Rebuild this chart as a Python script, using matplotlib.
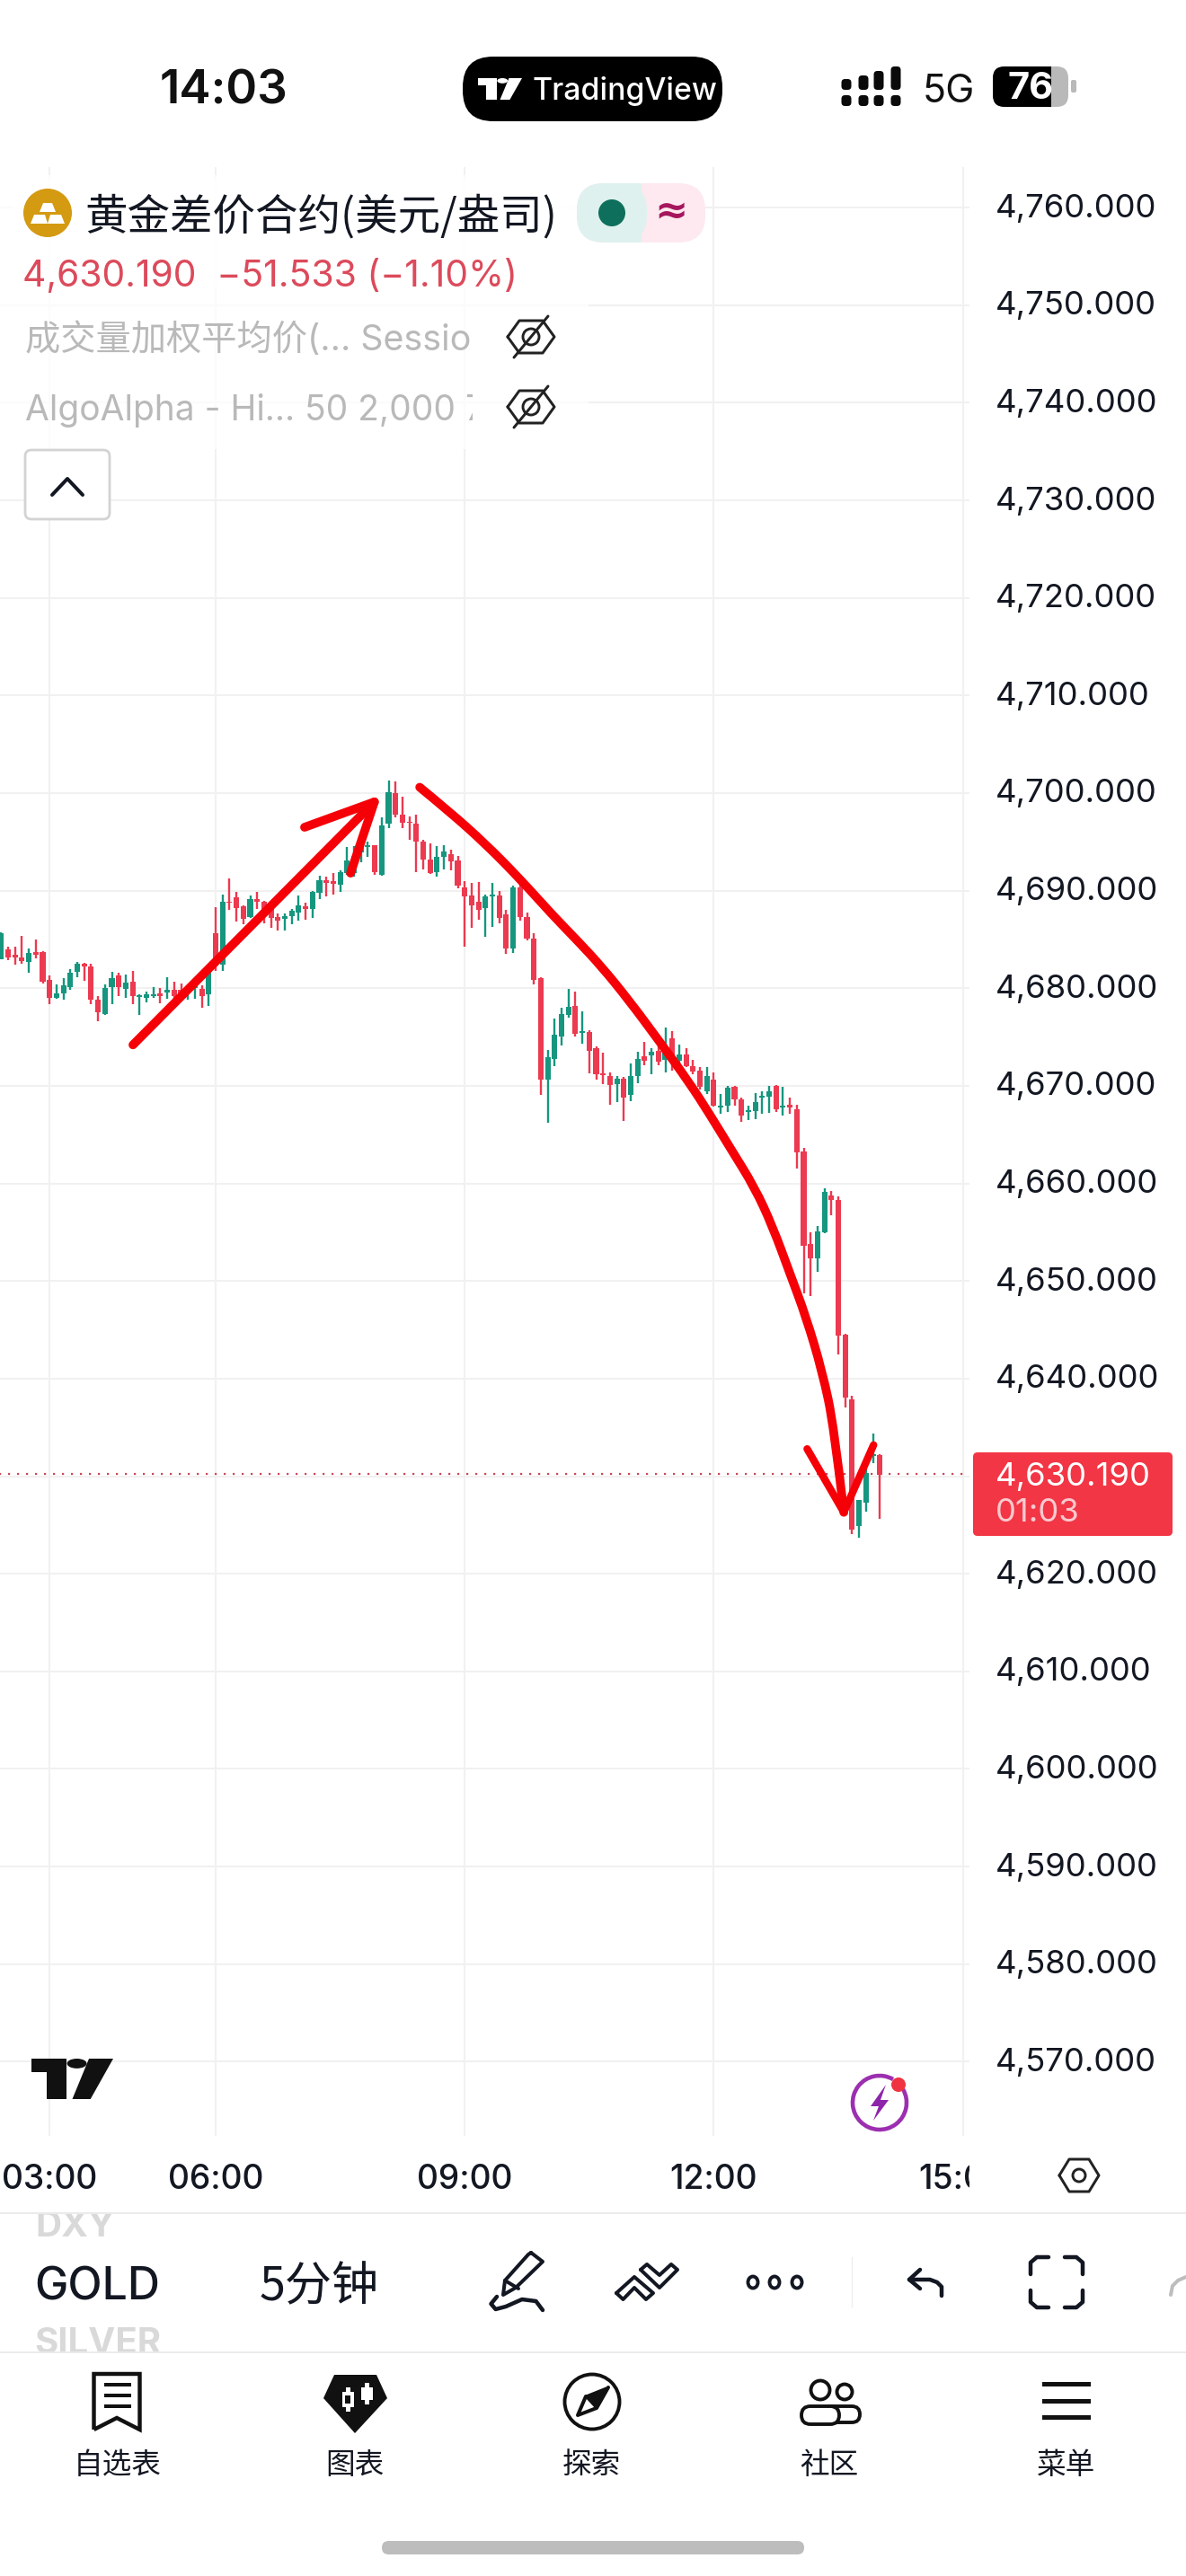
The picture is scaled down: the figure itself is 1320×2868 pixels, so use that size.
import matplotlib
matplotlib.use("Agg")
import matplotlib.pyplot as plt
from matplotlib.patches import Rectangle, FancyBboxPatch, Circle, Ellipse, Polygon, Arc, PathPatch
from matplotlib.path import Path
from matplotlib.transforms import Bbox, ScaledTranslation

# 5 minute gold candles, left to right
opens = [4683.0,4684.0,4683.4,4683.2,4682.7,4683.7,4683.7,4680.9,4679.0,4679.5,4680.1,4681.7,4682.5,4682.2,4678.8,4677.4,
         4680.1,4681.3,4679.9,4680.7,4679.1,4679.0,4679.2,4679.5,4679.6,4679.8,4679.8,4679.5,4680.0,4679.9,4679.4,4685.6,
         4682.4,4688.9,4689.3,4688.4,4687.3,4689.1,4688.9,4688.1,4687.3,4687.1,4687.4,4687.8,4688.4,4688.1,4689.8,4691.1,
         4691.0,4690.6,4691.8,4691.8,4693.9,4694.5,4694.7,4691.6,4696.9,4700.0,4697.8,4697.1,4696.9,4695.0,4693.2,4691.9,
         4693.5,4693.7,4693.1,4690.3,4689.5,4688.9,4688.2,4689.4,4689.5,4687.6,4684.1,4690.3,4687.3,4685.1,4681.0,4670.6,
         4672.8,4675.1,4677.3,4678.2,4675.4,4675.5,4673.9,4671.3,4671.0,4670.2,4670.7,4669.1,4671.0,4673.0,4673.1,4673.6,
         4672.7,4674.9,4672.6,4673.2,4672.0,4671.6,4669.4,4670.6,4667.8,4668.0,4669.9,4668.6,4667.3,4667.4,4668.8,4668.9,
         4670.0,4667.8,4668.1,4667.6,4663.3,4653.8,4652.3,4655.0,4658.8,4658.3,4644.5,4637.9,4624.9,4627.3,4632.1,4632.2]
highs = [4685.7,4684.3,4684.3,4685.4,4684.1,4685.0,4683.8,4681.3,4680.4,4681.0,4682.0,4682.7,4682.6,4682.5,4679.2,4680.4,
         4681.7,4681.6,4681.4,4681.8,4679.4,4679.7,4680.1,4680.0,4681.1,4680.7,4680.5,4680.3,4680.3,4680.3,4682.1,4688.3,
         4689.6,4691.3,4689.9,4688.5,4689.5,4689.9,4689.0,4688.9,4687.7,4687.7,4688.1,4689.5,4688.8,4690.0,4691.5,4691.4,
         4691.8,4692.1,4694.5,4694.6,4694.8,4695.0,4694.7,4697.5,4701.3,4701.2,4699.6,4697.6,4697.8,4695.2,4694.8,4694.6,
         4694.7,4694.2,4693.6,4691.0,4690.8,4690.9,4689.6,4690.8,4690.0,4688.0,4690.5,4690.8,4687.8,4685.6,4681.1,4673.7,
         4676.9,4678.0,4679.9,4679.7,4677.6,4675.7,4674.0,4673.4,4671.4,4671.0,4670.9,4672.3,4673.5,4674.5,4673.9,4674.8,
         4676.0,4675.6,4674.2,4673.9,4672.7,4671.9,4671.9,4671.4,4669.2,4670.0,4670.0,4668.8,4668.0,4669.3,4669.4,4670.0,
         4670.1,4669.9,4668.8,4668.1,4663.6,4655.0,4655.6,4659.5,4659.2,4658.7,4644.6,4638.2,4627.6,4630.8,4634.4,4632.3]
lows = [4683.0,4682.9,4682.4,4682.5,4681.6,4683.1,4680.5,4678.4,4678.9,4678.8,4679.8,4681.1,4680.8,4678.4,4676.6,4677.3,
        4678.4,4679.2,4679.0,4678.4,4677.3,4678.6,4679.0,4678.5,4678.9,4678.8,4679.1,4678.8,4678.9,4678.0,4678.2,4681.8,
        4681.8,4688.0,4686.8,4686.6,4687.2,4688.1,4686.7,4686.2,4685.9,4685.9,4686.6,4686.9,4687.0,4687.2,4689.1,4689.4,
        4689.6,4689.9,4691.6,4691.4,4692.9,4693.5,4691.6,4691.5,4696.4,4697.5,4696.4,4695.2,4691.9,4692.2,4691.7,4691.4,
        4692.2,4692.1,4690.2,4684.3,4686.2,4687.0,4685.3,4686.3,4686.7,4683.5,4683.6,4686.9,4684.9,4680.4,4669.1,4666.2,
        4672.0,4674.1,4677.0,4675.1,4674.3,4671.3,4670.6,4670.2,4668.1,4668.3,4666.4,4668.4,4670.3,4672.1,4671.2,4672.1,
        4671.4,4671.6,4672.2,4671.9,4671.2,4669.6,4669.2,4667.9,4667.1,4667.3,4668.0,4666.3,4666.5,4666.6,4667.1,4667.2,
        4667.3,4667.0,4667.1,4661.5,4648.7,4648.5,4650.9,4654.9,4656.7,4642.5,4637.0,4624.1,4623.7,4626.4,4631.3,4625.6]
closes = [4685.6,4683.2,4683.2,4682.8,4683.6,4683.4,4680.7,4679.0,4679.5,4680.3,4681.6,4682.5,4682.2,4678.8,4677.5,4680.0,
          4681.0,4680.1,4680.6,4679.2,4679.3,4679.4,4679.4,4679.2,4679.8,4679.2,4679.5,4679.8,4680.2,4679.2,4681.7,4682.7,
          4688.9,4688.8,4688.2,4687.1,4689.1,4688.9,4687.8,4687.2,4686.9,4687.4,4687.9,4688.5,4688.1,4689.9,4691.1,4690.8,
          4690.7,4691.9,4693.1,4693.6,4694.5,4694.7,4691.9,4696.7,4700.1,4697.8,4697.0,4697.0,4695.0,4693.2,4691.8,4693.5,
          4694.0,4693.0,4690.5,4689.4,4688.5,4688.0,4689.4,4689.6,4687.2,4684.1,4690.3,4687.3,4685.1,4680.9,4670.6,4672.9,
          4675.2,4677.4,4678.1,4675.3,4675.6,4673.6,4671.2,4671.1,4670.1,4670.7,4668.8,4671.0,4672.8,4672.6,4673.5,4672.5,
          4673.6,4672.8,4673.2,4672.0,4671.5,4669.9,4671.0,4668.0,4668.0,4669.8,4668.6,4667.0,4667.5,4668.3,4669.0,4669.4,
          4667.6,4668.0,4667.8,4663.2,4653.6,4652.3,4655.1,4659.1,4658.3,4644.4,4638.1,4624.5,4627.6,4630.3,4632.3,4630.1]

price_ticks = [4760,4750,4740,4730,4720,4710,4700,4690,4680,4670,4660,4650,4640,4620,4610,4600,4590,4580,4570]
time_pos = [7, 31, 67, 103, 139]
time_labels = ["03:00", "06:00", "09:00", "12:00", "15:00"]
last_price = 4630.19

# hand drawn red arrows, in bar number / price
up_x = [19.05, 53.95]
up_y = [4674.2, 4699.1]
up_head_x = [43.85, 53.95, 50.5]
up_head_y = [4696.5, 4699.1, 4691.8]
down_x = [60.5,64.8,70.0,75.0,79.7,83.4,86.8,90.7,95.0,99.4,102.4,105.5,108.9,111.5,114.1,116.3,118.7,120.4,121.8]
down_y = [4700.6,4698.1,4694.8,4691.2,4687.5,4684.8,4682.2,4678.8,4674.7,4670.4,4667.1,4663.5,4659.6,4655.6,4650.6,4646.4,4640.7,4635.0,4626.3]
down_head_x = [116.5, 121.8, 126.1]
down_head_y = [4632.8, 4626.3, 4633.2]

GREEN = "#16967f"
RED = "#ec3a50"
INK = "#131722"
GRID = "#f1f1f1"
PEN_RED = "#f60008"
LATIN = ["Inter", "Noto Sans CJK SC", "DejaVu Sans"]
CJK = ["Noto Sans CJK SC", "DejaVu Sans"]

plt.rcParams["font.family"] = LATIN

W, H = 1320, 2868
fig = plt.figure(figsize=(W / 100, H / 100), dpi=100, facecolor="white")

# chart pane, 4700 sits at y=883 and one bar is 7.7 px
ax = fig.add_axes([0, (H - 2378) / H, 1079 / W, (2378 - 186) / H])
ax.set_xlim((0 - 1.3) / 7.7, (1079 - 1.3) / 7.7)
ax.set_ylim(4700 - (2378 - 883) / 10.865, 4700 - (186 - 883) / 10.865)
for s in ax.spines.values():
    s.set_visible(False)
ax.yaxis.tick_right()
ax.set_yticks(price_ticks + [4630])
ax.set_yticklabels(["{:,.3f}".format(p) for p in price_ticks] + [""], fontsize=26.3, color=INK)
ax.set_xticks(time_pos)
ax.set_xticklabels(time_labels, fontsize=26.8, color=INK, fontweight="medium")
ax.tick_params(axis="y", length=0, pad=21)
ax.tick_params(axis="x", length=0, pad=22)
ax.grid(True, color=GRID, linewidth=1.5)
ax.set_axisbelow(True)


def clip_px(x0, y0, x1, y1):
    return Bbox([[x0, H - y1], [x1, H - y0]])


for lbl in ax.get_xticklabels():
    lbl.set_clip_on(True)
    lbl.set_clip_box(clip_px(0, 2380, 1079, 2460))
for lbl in ax.get_yticklabels():
    lbl.set_transform(lbl.get_transform() + ScaledTranslation(0, 2.5 / 100, fig.dpi_scale_trans))

ax.hlines(last_price, -1, 139.5, color="#c8485a", linewidth=1.6, linestyles=(0, (1, 3.5)), zorder=1)

colors = [GREEN if c >= o else RED for o, c in zip(opens, closes)]
idx = list(range(len(opens)))
ax.vlines(idx, lows, highs, colors=colors, linewidth=1.7, zorder=2)
ax.bar(idx, [abs(c - o) for o, c in zip(opens, closes)], bottom=[min(o, c) for o, c in zip(opens, closes)],
       width=0.78, color=colors, zorder=3)


def smooth_stroke(xs, ys, lw):
    # quadratic segments through the midpoints keep the hand drawn curve round
    verts = [(xs[0], ys[0])]
    codes = [Path.MOVETO]
    for k in range(1, len(xs) - 1):
        end = (xs[k + 1], ys[k + 1]) if k == len(xs) - 2 else ((xs[k] + xs[k + 1]) / 2, (ys[k] + ys[k + 1]) / 2)
        verts += [(xs[k], ys[k]), end]
        codes += [Path.CURVE3, Path.CURVE3]
    ax.add_patch(PathPatch(Path(verts, codes), fill=False, ec=PEN_RED, lw=lw, capstyle="round", joinstyle="round", zorder=5))


red_pen = dict(color=PEN_RED, solid_capstyle="round", solid_joinstyle="round", zorder=5)
ax.plot(up_x, up_y, linewidth=7.0, **red_pen)
ax.plot(up_head_x, up_head_y, linewidth=7.0, **red_pen)
smooth_stroke(down_x, down_y, 7.0)
ax.plot(down_head_x, down_head_y, linewidth=6.0, **red_pen)

# everything else is app chrome, drawn in screen pixels
ov = fig.add_axes([0, 0, 1, 1], facecolor="none")
ov.set_xlim(0, W)
ov.set_ylim(H, 0)
ov.axis("off")


def rrect(x0, y0, x1, y1, r, **kw):
    p = FancyBboxPatch((x0 + r, y0 + r), x1 - x0 - 2 * r, y1 - y0 - 2 * r,
                       boxstyle="round,pad=%f,rounding_size=%f" % (r, r), **kw)
    ov.add_patch(p)
    return p


def line(xs, ys, lw=3, color=INK):
    ov.plot(xs, ys, color=color, linewidth=lw * 0.72, solid_capstyle="round", solid_joinstyle="round")


def txt(x, y, s, size, color=INK, ha="left", weight="normal", family=None, clip=None):
    t = ov.text(x, y, s, fontsize=size, color=color, ha=ha, va="center", fontweight=weight,
                family=family or LATIN)
    if clip:
        t.set_clip_on(True)
        t.set_clip_box(clip_px(*clip))
    return t


def tv_logo(x, y, w, h, color):
    sx, sy = w / 108, h / 116
    ov.add_patch(Polygon([(x, y), (x + 46 * sx, y), (x + 46 * sx, y + h), (x + 20 * sx, y + h),
                          (x + 20 * sx, y + 38 * sy), (x, y + 38 * sy)], color=color, lw=0))
    ov.add_patch(Ellipse((x + 60 * sx, y + 14 * sy), 26 * sx, 28 * sy, color=color, lw=0))
    ov.add_patch(Polygon([(x + 76 * sx, y), (x + w, y), (x + 78 * sx, y + h), (x + 54 * sx, y + h)], color=color, lw=0))


def eye_off(cx, cy):
    line([cx - 26, cx - 13, cx + 13, cx + 26, cx + 13, cx - 13, cx - 26],
         [cy, cy - 18, cy - 18, cy, cy + 18, cy + 18, cy], lw=3, color="#222222")
    ov.add_patch(Circle((cx, cy), 9, fill=False, ec="#222222", lw=2.1))
    line([cx - 19, cx + 19], [cy + 23, cy - 23], lw=3, color="#222222")


# status bar
txt(249, 102, "14:03", 38, color="#111111", ha="center", weight="semibold")
rrect(515, 63, 804, 135, 34, fc="black", ec="none")
tv_logo(532, 87, 49, 24, "white")
txt(593, 101, "TradingView", 24.3, color="white", weight="medium")
for bx, top in zip([942, 961, 978, 997], [88, 84, 79, 74]):
    rrect(bx - 5.5, 106, bx + 5.5, 118, 4, fc="#0a0a0a", ec="none")
    rrect(bx - 5.5, top, bx + 5.5, 100, 4, fc="#0a0a0a", ec="none")
txt(1027, 102, "5G", 31, color="#111111")
rrect(1105, 74, 1189, 119, 13, fc="#b9b9b9", ec="none")
ov.add_patch(Rectangle((1118, 74), 52, 45, fc="black", ec="none"))
rrect(1105, 74, 1140, 119, 13, fc="black", ec="none")
rrect(1192, 89, 1198, 103, 2, fc="#b9b9b9", ec="none")
txt(1147, 99, "76", 30, color="white", ha="center", weight="bold")

# legend block, greys the grid out behind it
ov.add_patch(Rectangle((0, 195), 655, 305, fc="white", alpha=0.72, ec="none"))
ov.add_patch(Rectangle((15, 200), 625, 120, fc="white", alpha=0.9, ec="none"))
ov.add_patch(Circle((53, 237), 27, fc="#d49a12", ec="none"))
ov.add_patch(Polygon([(48, 226), (58, 226), (62, 236), (44, 236)], fc="white", lw=0))
ov.add_patch(Polygon([(38, 239), (50, 239), (53, 249), (34, 249)], fc="white", lw=0))
ov.add_patch(Polygon([(56, 239), (68, 239), (72, 249), (53, 249)], fc="white", lw=0))
txt(94, 242, "黄金差价合约(美元/盎司)", 34.2, family=CJK, weight="medium")
rrect(642, 204, 785, 270, 30, fc="#fde9ef", ec="none")
rrect(642, 204, 720, 270, 30, fc="#dff1ee", ec="none")
ov.add_patch(Rectangle((690, 204), 24, 66, fc="#dff1ee", ec="none"))
ov.add_patch(Circle((681, 237), 15, fc="#0e6f5c", ec="none"))
txt(747, 235, "≈", 32, color="#a5165d", ha="center", weight="bold", family=["DejaVu Sans"])
txt(25, 308, "4,630.190  −51.533 (−1.10%)", 29.4, color="#dc4a5b")
txt(28, 379, "成交量加权平均价(... Session", 28.3, color="#b9b9b9", clip=(0, 340, 526, 415))
txt(28, 457, "AlgoAlpha - Hi... 50 2,000 7", 28, color="#b9b9b9", clip=(0, 420, 526, 495))
eye_off(591, 375)
eye_off(591, 453)
rrect(28, 501, 122, 578, 7, fc="white", ec="#d3d3d3", lw=2)
line([58, 75, 92], [551, 533, 551], lw=4)

# last price tag
rrect(1083, 1617, 1305, 1710, 5, fc="#f23645", ec="none")
txt(1108, 1644, "4,630.190", 26.3, color="white")
txt(1108, 1685, "01:03", 26.3, color="#f9c9cf")

# chart logo and lightning badge
tv_logo(35, 2292, 91, 45, "#111111")
ov.add_patch(Arc((979, 2341), 60, 60, theta1=-30, theta2=300, ec="#9c2fb0", lw=3.3))
ov.add_patch(Polygon([(986, 2321), (969, 2345), (978, 2345), (972, 2361), (989, 2338), (980, 2338)],
                     fc="#8e24aa", lw=0))
ov.add_patch(Circle((1000, 2321), 8, fc="#ef3340", ec="none"))

# settings hexagon on the time axis
line([1179, 1190, 1212, 1223, 1212, 1190, 1179], [2422, 2404, 2404, 2422, 2440, 2440, 2422], lw=3, color="#222222")
ov.add_patch(Circle((1201, 2422), 7, fill=False, ec="#222222", lw=2.1))

# toolbar
ov.plot([0, W], [2464, 2464], color="#e8e8e8", lw=1.2)
ov.plot([0, W], [2619, 2619], color="#e8e8e8", lw=1.2)
txt(39, 2480, "DXY", 29, color="#d9d9d9", clip=(0, 2465, 400, 2520), weight="bold")
txt(38, 2547, "GOLD", 36, color="#131722", weight="medium")
txt(38, 2609, "SILVER", 29, color="#d9d9d9", clip=(0, 2570, 400, 2618), weight="bold")
txt(289, 2547, "5分钟", 37.5, family=CJK, weight="medium")
line([591, 604, 574, 560, 562, 588, 591], [2508, 2518, 2547, 2555, 2539, 2510, 2508], lw=4)
line([562, 577], [2539, 2548], lw=4)
line([553, 546.5, 551.6, 563, 581, 596.5, 604], [2557, 2565, 2571, 2568, 2560, 2562, 2572], lw=4.5)
line([686, 706, 727, 719, 706, 693.5, 686], [2553, 2535, 2553, 2560, 2547, 2560, 2553], lw=4)
line([713, 720, 734, 747, 754, 734, 713], [2527, 2521, 2533, 2521, 2527, 2547, 2527], lw=4)
for dx in [838, 862, 887]:
    ov.add_patch(Ellipse((dx, 2541), 11, 13, fill=False, ec=INK, lw=2.8))
ov.plot([947.5, 947.5], [2513, 2568], color="#eeeeee", lw=1)
line([1024, 1012, 1024], [2527, 2538, 2548], lw=4.5)
line([1012, 1035, 1043, 1048, 1048], [2538, 2538, 2541, 2546, 2556], lw=4.5)
for xa, xb in [(1167, 1147), (1185, 1205)]:
    line([xa, xa + (xb - xa) * 0.65, xb, xb], [2513, 2513, 2519, 2532], lw=4.5)
    line([xa, xa + (xb - xa) * 0.65, xb, xb], [2569, 2569, 2563, 2550], lw=4.5)
line([1303, 1305, 1311, 1320], [2555, 2545, 2539, 2535], lw=4, color="#bdbdbd")

# bottom nav
ov.plot([104.5, 104.5, 155.5, 155.5, 130, 104.5], [2705, 2643, 2643, 2705, 2692, 2705],
        color="#111111", lw=3.2, solid_joinstyle="miter", solid_capstyle="butt")
for ny in [2655, 2667, 2679]:
    ov.add_patch(Rectangle((116, ny - 2), 30, 4, fc="#111111", ec="none"))
ov.add_patch(Polygon([(372, 2644), (419, 2644), (431, 2670), (395, 2709), (360, 2670)], fc="#111111", lw=0))
for cx, wt, wb, bt, bb in [(387, 2658, 2685, 2663, 2680), (408, 2653, 2677, 2658, 2672)]:
    ov.add_patch(Rectangle((cx - 2.5, wt), 5, wb - wt, fc="white", ec="none"))
    ov.add_patch(Rectangle((cx - 6.5, bt), 13, bb - bt, fc="white", ec="none"))
ov.add_patch(Rectangle((384, 2667), 6, 9, fc="#111111", ec="none"))
ov.add_patch(Circle((659, 2674), 30.5, fill=False, ec="#111111", lw=2.8))
ov.add_patch(Polygon([(677, 2658), (652, 2668), (664, 2681)], fc="#111111", ec="#111111", lw=2, joinstyle="round"))
line([652, 643, 664, 677], [2668, 2689, 2681, 2658], lw=4, color="#111111")
ov.add_patch(Circle((913, 2661), 10.5, fill=False, ec="#111111", lw=2.8))
ov.add_patch(Circle((940, 2663), 8.5, fill=False, ec="#111111", lw=2.8))
rrect(915, 2679, 957, 2697, 9, fc="white", ec="#111111", lw=2.8)
rrect(892, 2679, 934, 2699, 10, fc="white", ec="#111111", lw=2.8)
for ny in [2654, 2673, 2691]:
    ov.add_patch(Rectangle((1160, ny - 2), 54, 4.5, fc="#111111", ec="none"))
for nx, s in zip([130.5, 395, 658, 923, 1187], ["自选表", "图表", "探索", "社区", "菜单"]):
    txt(nx, 2745, s, 23.5, ha="center", family=CJK)

rrect(425, 2829, 895, 2844, 7.5, fc="#bdbdbd", ec="none")

fig.savefig("out.png", dpi=100, facecolor="white")
